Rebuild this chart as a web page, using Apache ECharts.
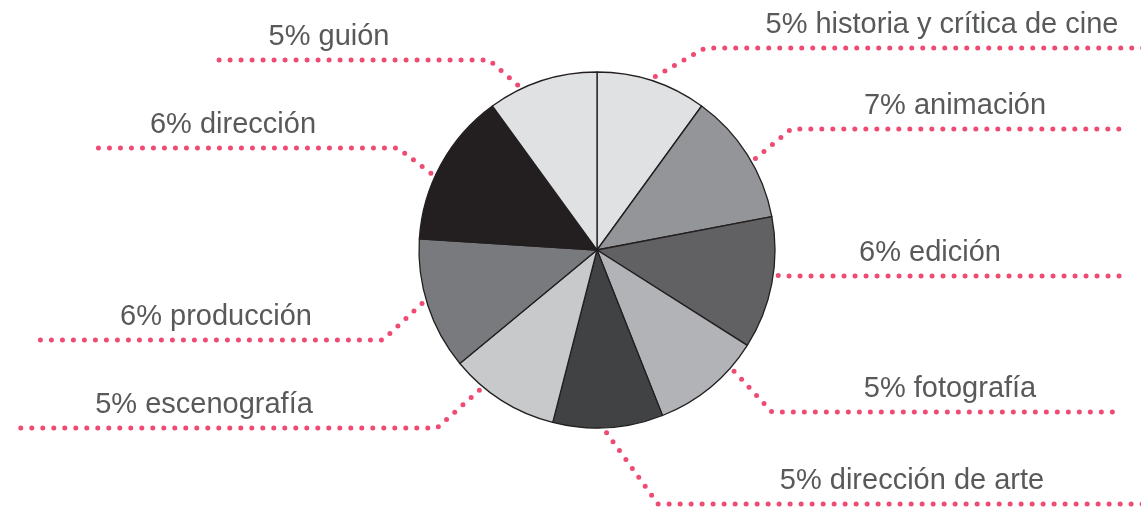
<!DOCTYPE html>
<html>
<head>
<meta charset="utf-8">
<script src="https://cdn.jsdelivr.net/npm/echarts@6/dist/echarts.min.js"></script>
<style>
  html, body { margin: 0; padding: 0; background: #ffffff; }
  #chart { width: 1141px; height: 508px; }
</style>
</head>
<body>
<div id="chart"></div>
<script>
// ---- data (clockwise from 12 o'clock) ----
const categories = ['historia y crítica de cine', 'animación', 'edición', 'fotografía',
  'dirección de arte', 'escenografía', 'producción', 'dirección', 'guión'];
// slice sizes as drawn in the picture
const shares = [5, 6, 6, 5, 5, 5, 6, 7, 5];
// percentage text as printed on the labels
const percentLabels = ['5%', '7%', '6%', '5%', '5%', '5%', '6%', '6%', '5%'];

// ---- styles ----
const sliceColors = ['#e0e1e3', '#939598', '#616163', '#b1b3b6', '#414244',
  '#c8c9cb', '#797a7e', '#231f20', '#e0e1e3'];
const PIE_CENTER = [597, 250];
const PIE_RADIUS = 178;
// leader-line layout: anchor angle on the rim (deg, clockwise from top),
// y of the horizontal run, x where it bends, x where it ends, label centre x
const leaders = [
  { angle: 18.6, lineY: 48,  bendX: 705, endX: 1146, textX: 942 },
  { angle: 60,   lineY: 129, bendX: 791, endX: 1122, textX: 955 },
  { angle: 98,   lineY: 276, bendX: 779, endX: 1122, textX: 930 },
  { angle: 131.5,lineY: 412, bendX: 772, endX: 1121, textX: 950 },
  { angle: 177,  lineY: 504, bendX: 658, endX: 1146, textX: 912 },
  { angle: 220,  lineY: 428, bendX: 437, endX: 12,   textX: 204 },
  { angle: 253,  lineY: 340, bendX: 383, endX: 36,   textX: 216 },
  { angle: 294.8,lineY: 148, bendX: 398, endX: 90,   textX: 233 },
  { angle: 334.3,lineY: 60,  bendX: 489, endX: 218,  textX: 329 }
];

const chart = echarts.init(document.getElementById('chart'), null, { renderer: 'canvas' });

const seriesData = categories.map((name, i) => ({
  name: name,
  value: shares[i],
  itemStyle: { color: sliceColors[i] }
}));

chart.setOption({
  animation: false,
  backgroundColor: '#ffffff',
  series: [{
    type: 'pie',
    center: PIE_CENTER,
    radius: PIE_RADIUS,
    startAngle: 90,
    clockwise: true,
    avoidLabelOverlap: false,
    silent: true,
    data: seriesData,
    itemStyle: { borderColor: '#231f20', borderWidth: 1.3 },
    emphasis: { disabled: true, scale: false },
    label: {
      show: true,
      position: 'outside',
      color: '#58595b',
      fontSize: 29,
      fontFamily: '"Liberation Sans", Arial, sans-serif',
      formatter: (p) => percentLabels[p.dataIndex] + ' ' + categories[p.dataIndex]
    },
    labelLine: {
      show: true,
      length: 10,
      length2: 10,
      smooth: false,
      lineStyle: { color: '#ef4a72', width: 5, type: [0, 11], cap: 'round' }
    },
    labelLayout: function (params) {
      const L = leaders[params.dataIndex];
      const a = L.angle * Math.PI / 180;
      const r = PIE_RADIUS + 5;
      const start = [PIE_CENTER[0] + r * Math.sin(a), PIE_CENTER[1] - r * Math.cos(a)];
      return {
        x: L.textX,
        y: L.lineY - 23,
        align: 'center',
        verticalAlign: 'middle',
        labelLinePoints: [start, [L.bendX, L.lineY], [L.endX, L.lineY]]
      };
    }
  }]
});
</script>
</body>
</html>
